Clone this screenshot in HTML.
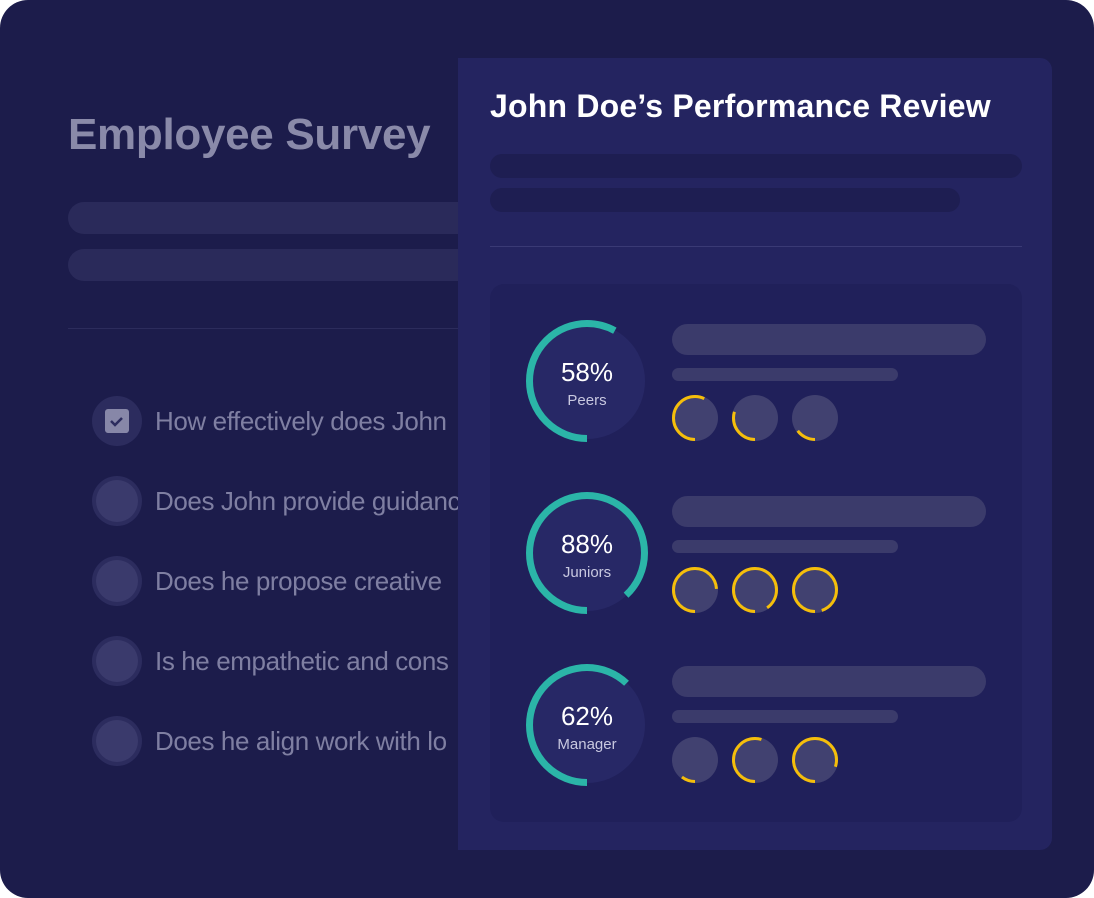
<!DOCTYPE html><html><head><style>
body{margin:0;width:1094px;height:898px;background:#fff;overflow:hidden;font-family:"Liberation Sans",sans-serif}
.abs{position:absolute}
</style></head><body>
<div class="abs" style="left:0;top:0;width:1094px;height:898px;background:#1c1c4b;border-radius:28px"></div>
<div class="abs" style="left:68px;top:110px;font-size:44px;font-weight:bold;color:#8a8aa9;letter-spacing:-0.3px">Employee Survey</div>
<div class="abs" style="left:68px;top:202px;width:420px;height:32px;border-radius:16px;background:#2a2a5a"></div>
<div class="abs" style="left:68px;top:249px;width:420px;height:32px;border-radius:16px;background:#2a2a5a"></div>
<div class="abs" style="left:68px;top:328px;width:400px;height:1px;background:#2c2c5c"></div>
<svg class="abs" style="left:0;top:0" width="470" height="898">
<g fill="#2c2c5e"><circle cx="117" cy="421" r="25"/><circle cx="117" cy="501" r="25"/><circle cx="117" cy="581" r="25"/><circle cx="117" cy="661" r="25"/><circle cx="117" cy="741" r="25"/></g>
<g fill="#3a3a6c"><circle cx="117" cy="501" r="21"/><circle cx="117" cy="581" r="21"/><circle cx="117" cy="661" r="21"/><circle cx="117" cy="741" r="21"/></g>
<rect x="105" y="409" width="24" height="24" rx="3" fill="#8787a8"/>
<path d="M111 421 l4 4 l7 -7" stroke="#2c2c5e" stroke-width="2.5" fill="none"/>
<g fill="#7f7fa2" font-size="26" letter-spacing="-0.4" font-family="Liberation Sans,sans-serif">
<text x="155" y="430">How effectively does John</text>
<text x="155" y="510">Does John provide guidance</text>
<text x="155" y="590">Does he propose creative</text>
<text x="155" y="670">Is he empathetic and cons</text>
<text x="155" y="750">Does he align work with lo</text>
</g></svg>
<div class="abs" style="left:458px;top:58px;width:594px;height:792px;background:#242460;border-radius:0 12px 12px 0"></div>
<div class="abs" style="left:490px;top:88px;font-size:32px;font-weight:bold;color:#fff;letter-spacing:0.2px">John Doe’s Performance Review</div>
<div class="abs" style="left:490px;top:154px;width:532px;height:24px;border-radius:12px;background:#1e1e52"></div>
<div class="abs" style="left:490px;top:188px;width:470px;height:24px;border-radius:12px;background:#1e1e52"></div>
<div class="abs" style="left:490px;top:246px;width:532px;height:1px;background:#3a3a75"></div>
<div class="abs" style="left:490px;top:284px;width:532px;height:538px;border-radius:14px;background:#20205a"></div>
<svg class="abs" style="left:0;top:0" width="1094" height="898" font-family="Liberation Sans,sans-serif">
<circle cx="587" cy="381" r="58" fill="#272866"/>
<circle cx="587" cy="381" r="57.5" fill="none" stroke="#2bb5a8" stroke-width="7" stroke-dasharray="209.5 400" transform="rotate(90 587 381)"/>
<text x="587" y="381" fill="#fff" font-size="26" text-anchor="middle">58%</text>
<text x="587" y="405" fill="#c8c8e0" font-size="15" text-anchor="middle">Peers</text>
<circle cx="587" cy="553" r="58" fill="#272866"/>
<circle cx="587" cy="553" r="57.5" fill="none" stroke="#2bb5a8" stroke-width="7" stroke-dasharray="318 400" transform="rotate(90 587 553)"/>
<text x="587" y="553" fill="#fff" font-size="26" text-anchor="middle">88%</text>
<text x="587" y="577" fill="#c8c8e0" font-size="15" text-anchor="middle">Juniors</text>
<circle cx="587" cy="725" r="58" fill="#272866"/>
<circle cx="587" cy="725" r="57.5" fill="none" stroke="#2bb5a8" stroke-width="7" stroke-dasharray="224 400" transform="rotate(90 587 725)"/>
<text x="587" y="725" fill="#fff" font-size="26" text-anchor="middle">62%</text>
<text x="587" y="749" fill="#c8c8e0" font-size="15" text-anchor="middle">Manager</text>
<g fill="#3b3b6b">
<rect x="672" y="324" width="314" height="31" rx="15.5"/><rect x="672" y="368" width="226" height="13" rx="6.5"/>
<rect x="672" y="496" width="314" height="31" rx="15.5"/><rect x="672" y="540" width="226" height="13" rx="6.5"/>
<rect x="672" y="666" width="314" height="31" rx="15.5"/><rect x="672" y="710" width="226" height="13" rx="6.5"/>
</g>
<g fill="#414170">
<circle cx="695" cy="418" r="23"/><circle cx="755" cy="418" r="23"/><circle cx="815" cy="418" r="23"/>
<circle cx="695" cy="590" r="23"/><circle cx="755" cy="590" r="23"/><circle cx="815" cy="590" r="23"/>
<circle cx="695" cy="760" r="23"/><circle cx="755" cy="760" r="23"/><circle cx="815" cy="760" r="23"/>
</g>
<g fill="none" stroke="#f5be0b" stroke-width="3">
<circle cx="695" cy="418" r="21.5" stroke-dasharray="77 200" transform="rotate(90 695 418)"/>
<circle cx="755" cy="418" r="21.5" stroke-dasharray="40 200" transform="rotate(90 755 418)"/>
<circle cx="815" cy="418" r="21.5" stroke-dasharray="20 200" transform="rotate(90 815 418)"/>
<circle cx="695" cy="590" r="21.5" stroke-dasharray="100 200" transform="rotate(90 695 590)"/>
<circle cx="755" cy="590" r="21.5" stroke-dasharray="122 200" transform="rotate(90 755 590)"/>
<circle cx="815" cy="590" r="21.5" stroke-dasharray="128 200" transform="rotate(90 815 590)"/>
<circle cx="695" cy="760" r="21.5" stroke-dasharray="14 200" transform="rotate(90 695 760)"/>
<circle cx="755" cy="760" r="21.5" stroke-dasharray="74 200" transform="rotate(90 755 760)"/>
<circle cx="815" cy="760" r="21.5" stroke-dasharray="108 200" transform="rotate(90 815 760)"/>
</g>
</svg>
</body></html>
